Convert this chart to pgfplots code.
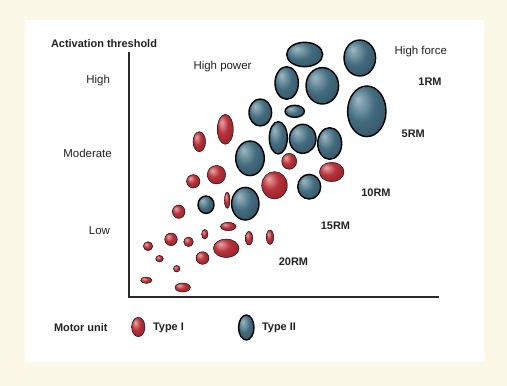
\documentclass[border=0pt]{standalone}
\usepackage{pgfplots}
\pgfplotsset{compat=1.18}
\usepackage{pgfplotstable}
\usepackage{fontspec}
\setmainfont{Liberation Sans}

\definecolor{cream}{HTML}{FBF8E8}
\definecolor{txt}{HTML}{222222}
\definecolor{axgray}{HTML}{2A2A2A}
\definecolor{redhi}{HTML}{EBA7A9}
\definecolor{redbase}{HTML}{B5323B}
\definecolor{reddark}{HTML}{8A1A22}
\definecolor{bluehi}{HTML}{9DB8C4}
\definecolor{bluebase}{HTML}{426B7D}
\definecolor{bluedark}{HTML}{2B4A5A}

\pgfdeclareradialshading{redball}{\pgfpoint{-12bp}{12bp}}{color(0bp)=(redhi); color(16bp)=(redbase); color(38bp)=(reddark); color(50bp)=(reddark)}
\pgfdeclareradialshading{blueball}{\pgfpoint{-12bp}{12bp}}{color(0bp)=(bluehi); color(18bp)=(bluebase); color(40bp)=(bluedark); color(50bp)=(bluedark)}

\pgfdeclareplotmark{ellI}{\shade[shading=redball] (0,0) ellipse [x radius=\elrx bp, y radius=\elry bp];}
\pgfdeclareplotmark{ellII}{\shadedraw[shading=blueball, draw=black, line width=1.4bp] (0,0) ellipse [x radius=\elrx bp, y radius=\elry bp];}

\newcommand{\regf}{\fontsize{11.5}{13}\selectfont}
\newcommand{\bldf}{\bfseries\fontsize{11}{13}\selectfont}

% Type I (red) motor units: centre x, centre y (from top), radii
\pgfplotstableread{
x y rx ry
199.3 141.7 6.3 10
225.3 129.3 8 15
289.2 161.3 7.5 8
331.7 172 12.3 9.7
274.5 185.3 12.8 13.7
216.5 174.7 9.2 9.3
193.3 181.3 6.7 6.7
227.2 200.3 2.8 8
178.7 211.7 6.3 6.7
228.3 226.5 7.7 4.2
204.8 234.2 3.2 4.8
171 239.3 6.3 6.3
188.5 241.8 4.8 4.8
226.2 248.3 12.8 9.3
249 238.2 3.7 6.8
270 237.2 3.7 7.2
148 246.2 4.7 4.5
159.5 258.7 3.8 3.3
202.5 258 6.5 6.3
176.7 268.7 3.3 3.3
146.3 280.2 5.7 3.2
182.7 287.5 7.7 4.5
}\typeone

% Type II (blue) motor units
\pgfplotstableread{
x y rx ry
304.7 54.5 18 12.2
359.8 58 15.8 18
286.7 83 11.7 16.3
322.3 85.8 16.3 18.2
366.8 111.3 19.2 25.3
260.3 112.5 11.3 13.5
294.7 111.3 9.7 6
278.3 137.8 9 16.2
302.7 138.8 13.3 14.5
329.7 143.5 12 15.8
250 158.3 14.3 17.3
309.2 186.7 11.5 12.3
206 204.7 8 8.7
245.3 203.7 13.7 16.3
}\typetwo

\pgfplotstableread{
x y rx ry
138.3 327 6.7 9.7
}\legI
\pgfplotstableread{
x y rx ry
246.3 327.5 7.7 12.5
}\legII

\begin{document}
\begin{tikzpicture}
\begin{axis}[
  scale only axis, width=507bp, height=386bp,
  xmin=0, xmax=507, ymin=0, ymax=386, y dir=reverse,
  hide axis, clip=false,
]
\addplot[fill=cream, draw=none] coordinates {(0,0)(507,0)(507,386)(0,386)} -- cycle;
\addplot[fill=white, draw=none] coordinates {(25,20.5)(483.5,20.5)(483.5,361.5)(25,361.5)} -- cycle;
\addplot[draw=axgray, line width=1.8bp] coordinates {(129.3,51.7)(129.3,297)(438.5,297)};

\addplot[scatter, only marks, mark=ellI,
  scatter/@pre marker code/.code={}, scatter/@post marker code/.code={},
  visualization depends on={\thisrow{rx}\as\elrx},
  visualization depends on={\thisrow{ry}\as\elry}] table {\typeone};
\addplot[scatter, only marks, mark=ellII,
  scatter/@pre marker code/.code={}, scatter/@post marker code/.code={},
  visualization depends on={\thisrow{rx}\as\elrx},
  visualization depends on={\thisrow{ry}\as\elry}] table {\typetwo};
\addplot[scatter, only marks, mark=ellI,
  scatter/@pre marker code/.code={}, scatter/@post marker code/.code={},
  visualization depends on={\thisrow{rx}\as\elrx},
  visualization depends on={\thisrow{ry}\as\elry}] table {\legI};
\addplot[scatter, only marks, mark=ellII,
  scatter/@pre marker code/.code={}, scatter/@post marker code/.code={},
  visualization depends on={\thisrow{rx}\as\elrx},
  visualization depends on={\thisrow{ry}\as\elry}] table {\legII};

\node[anchor=west, text=txt, font=\bldf] at (axis cs:47.5,43.3) {Activation threshold};
\node[anchor=east, text=txt, font=\regf] at (axis cs:113.5,80.7) {High};
\node[anchor=east, text=txt, font=\regf] at (axis cs:115.3,153.3) {Moderate};
\node[anchor=east, text=txt, font=\regf] at (axis cs:113.5,230.7) {Low};
\node[text=txt, font=\regf] at (axis cs:222.5,66.7) {High power};
\node[text=txt, font=\regf] at (axis cs:420.8,51.7) {High force};
\node[text=txt, font=\bldf] at (axis cs:430,81.7) {1RM};
\node[text=txt, font=\bldf] at (axis cs:413.3,133.3) {5RM};
\node[text=txt, font=\bldf] at (axis cs:376,192.7) {10RM};
\node[text=txt, font=\bldf] at (axis cs:335.5,225.7) {15RM};
\node[text=txt, font=\bldf] at (axis cs:293.5,261.7) {20RM};
\node[anchor=west, text=txt, font=\bldf] at (axis cs:50.5,327.7) {Motor unit};
\node[anchor=west, text=txt, font=\bldf] at (axis cs:149.5,327.7) {Type I};
\node[anchor=west, text=txt, font=\bldf] at (axis cs:258.5,327.7) {Type II};
\end{axis}
\end{tikzpicture}
\end{document}
